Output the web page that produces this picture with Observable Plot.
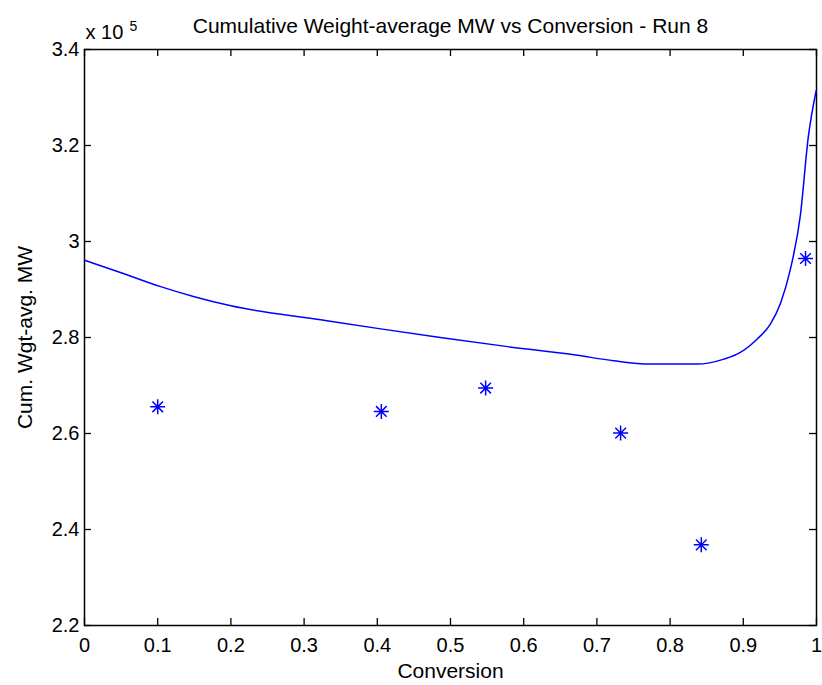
<!DOCTYPE html>
<html>
<head>
<meta charset="utf-8">
<script src="https://cdn.jsdelivr.net/npm/d3@7"></script>
<script src="https://cdn.jsdelivr.net/npm/@observablehq/plot@0.6"></script>
<style>
  html, body { margin: 0; padding: 0; background: #fff; }
  #chart svg { display: block; }
</style>
</head>
<body>
<div id="chart"></div>
<script>
// Model prediction: cumulative weight-average MW along conversion
const convModel = [0, 0.05, 0.104, 0.15, 0.2, 0.3225, 0.40, 0.486, 0.578, 0.669, 0.723, 0.771, 0.80, 0.837, 0.8735, 0.896, 0.919, 0.937, 0.951, 0.9646, 0.978, 0.9888, 0.9995];
const mwModel = [296100, 293500, 290600, 288500, 286600, 283700, 281900, 280000, 278100, 276400, 275150, 274460, 274460, 274460, 275500, 276900, 279700, 282800, 287200, 294400, 305500, 321800, 331400];

// Measured samples
const convMeas = [0.1, 0.4055, 0.548, 0.7324, 0.8426, 0.985];
const mwMeas = [265560, 264600, 269460, 260080, 236800, 296460];

// Axis ticks
const xTicks = [0, 0.1, 0.2, 0.3, 0.4, 0.5, 0.6, 0.7, 0.8, 0.9, 1];
const yTicks = [220000, 240000, 260000, 280000, 300000, 320000, 340000];

const titleText = "Cumulative Weight-average MW vs Conversion - Run 8";
const xLabel = "Conversion";
const yLabel = "Cum. Wgt-avg. MW";
const expBase = "x 10";
const expPower = "5";

const model = convModel.map((c, i) => ({conv: c, mw: mwModel[i]}));
const meas = convMeas.map((c, i) => ({conv: c, mw: mwMeas[i]}));

const width = 822, height = 685;
const mL = 84, mR = 6, mT = 49, mB = 60;
const innerW = width - mL - mR, innerH = height - mT - mB;
const tick = 7;
const blue = "#0000ff";

// Eight-armed star marker (plus and cross combined)
const star = {
  draw(ctx, size) {
    const r = Math.sqrt(size / Math.PI);
    const d = r * Math.SQRT1_2;
    ctx.moveTo(-r, 0); ctx.lineTo(r, 0);
    ctx.moveTo(0, -r); ctx.lineTo(0, r);
    ctx.moveTo(-d, -d); ctx.lineTo(d, d);
    ctx.moveTo(-d, d); ctx.lineTo(d, -d);
  }
};

const fmtX = d => String(d);
const fmtY = d => String(+(d / 1e5).toFixed(1));

const chart = Plot.plot({
  width, height,
  marginLeft: mL, marginRight: mR, marginTop: mT, marginBottom: mB,
  style: {fontFamily: "'Liberation Sans', Arial, Helvetica, sans-serif", fontSize: "20px", color: "black", background: "white", overflow: "visible"},
  x: {domain: [0, 1]},
  y: {domain: [220000, 340000]},
  marks: [
    Plot.frame({stroke: "black", strokeWidth: 1.5}),
    // inward ticks on all four sides
    Plot.tickX(xTicks, {x: d => d, insetTop: innerH - tick, stroke: "black", strokeWidth: 1.3}),
    Plot.tickX(xTicks, {x: d => d, insetBottom: innerH - tick, stroke: "black", strokeWidth: 1.3}),
    Plot.tickY(yTicks, {y: d => d, insetRight: innerW - tick, stroke: "black", strokeWidth: 1.3}),
    Plot.tickY(yTicks, {y: d => d, insetLeft: innerW - tick, stroke: "black", strokeWidth: 1.3}),
    Plot.axisX({ticks: xTicks, tickSize: 0, tickPadding: 12, tickFormat: fmtX, label: null, fill: "black"}),
    Plot.axisY({ticks: yTicks, tickSize: 0, tickPadding: 5, tickFormat: fmtY, label: null, fill: "black"}),
    Plot.line(model, {x: "conv", y: "mw", stroke: blue, strokeWidth: 1.5, curve: "monotone-x"}),
    Plot.dot(meas, {x: "conv", y: "mw", symbol: star, r: 7.5, stroke: blue, strokeWidth: 1.5, fill: "none"}),
    // title, axis labels and exponent
    Plot.text([titleText], {text: d => d, frameAnchor: "top", lineAnchor: "bottom", textAnchor: "middle", dy: -17, fontSize: 21, fill: "black"}),
    Plot.text([xLabel], {text: d => d, frameAnchor: "bottom", lineAnchor: "bottom", textAnchor: "middle", dy: 52, fontSize: 21, fill: "black"}),
    Plot.text([yLabel], {text: d => d, frameAnchor: "left", lineAnchor: "middle", textAnchor: "middle", rotate: -90, dx: -59, fontSize: 21, fill: "black"}),
    Plot.text([expBase], {text: d => d, frameAnchor: "top-left", lineAnchor: "bottom", textAnchor: "start", dx: 1, dy: -11, fill: "black"}),
    Plot.text([expPower], {text: d => d, frameAnchor: "top-left", lineAnchor: "bottom", textAnchor: "start", dx: 45, dy: -19, fontSize: 14, fill: "black"})
  ]
});

document.getElementById("chart").appendChild(chart);
</script>
</body>
</html>
